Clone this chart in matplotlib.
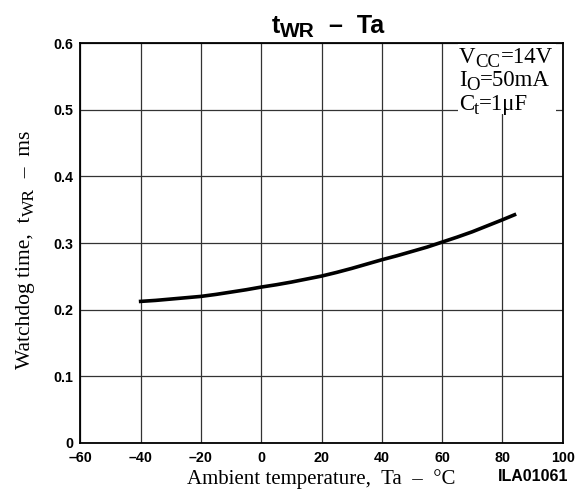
import matplotlib
matplotlib.use("Agg")
import matplotlib.pyplot as plt
from matplotlib.patches import Rectangle

temps = [-40, -35, -30, -25, -20, -15, -10, -5, 0, 5, 10, 15, 20, 25, 30, 35, 40, 45, 50, 55, 60, 65, 70, 75, 80, 84]
t_wr = [0.2125, 0.214, 0.216, 0.218, 0.220, 0.223, 0.2265, 0.230, 0.234, 0.2375, 0.2415, 0.246,
        0.2505, 0.256, 0.262, 0.2685, 0.275, 0.281, 0.2875, 0.294, 0.3015, 0.309, 0.317, 0.326, 0.335, 0.3425]
xticks = [-60, -40, -20, 0, 20, 40, 60, 80, 100]
xtick_labels = ["\u201360", "\u201340", "\u201320", "0", "20", "40", "60", "80", "100"]
yticks = [0, 0.1, 0.2, 0.3, 0.4, 0.5, 0.6]
ytick_labels = ["0", "0.1", "0.2", "0.3", "0.4", "0.5", "0.6"]

serif = 'Liberation Serif'
sans = 'Liberation Sans'
W, H = 576, 491

fig = plt.figure(figsize=(W / 100, H / 100), dpi=100)
ax = fig.add_axes([0.1395, 0.0978, 0.8375, 0.8142])

ax.plot(temps, t_wr, color='black', lw=2.6, zorder=3)

ax.set_xlim(-60, 100)
ax.set_ylim(0, 0.6)
ax.set_xticks(xticks)
ax.set_xticklabels(xtick_labels)
ax.set_yticks(yticks)
ax.set_yticklabels(ytick_labels)
ax.grid(True, color='#333333', lw=0.9)
ax.tick_params(axis='x', length=0, pad=5.5)
ax.tick_params(axis='y', length=0, pad=5)
for lab in ax.get_xticklabels() + ax.get_yticklabels():
    lab.set_fontfamily(sans)
    lab.set_fontweight('bold')
    lab.set_fontsize(10.3)
for s in ax.spines.values():
    s.set_linewidth(1.3)
    s.set_color('black')

ax.set_xlabel('Ambient temperature,  Ta  \u2013  \u00b0C', fontfamily=serif, fontsize=15, labelpad=3)

# white box behind the conditions text
ax.add_patch(Rectangle((0.782, 0.823), 0.205, 0.175, transform=ax.transAxes,
                       facecolor='white', edgecolor='none', zorder=2.5))

renderer = fig.canvas.get_renderer()


def rich(x0, y0, pieces, rotation=0, align='left', **kw):
    """pieces: (string, shift_px, fontsize); x0,y0 in figure pixels (baseline)."""
    objs = []
    total = 0.0
    for s, shift, size in pieces:
        t = fig.text(0, 0, s, fontsize=size, rotation=rotation, rotation_mode='anchor',
                     ha='left', va='baseline', zorder=4, **kw)
        bb = t.get_window_extent(renderer)
        L = bb.width if rotation == 0 else bb.height
        objs.append((t, L, shift))
        total += L
    start = 0.0
    if align == 'center':
        start = -total / 2
    elif align == 'right':
        start = -total
    pos = start
    for t, L, shift in objs:
        if rotation == 0:
            x, y = x0 + pos, y0 - shift
        else:
            x, y = x0 + shift, y0 + pos
        t.set_position((x / W, y / H))
        pos += L


# title
rich(328, H - 33, [('t', 0, 18), ('WR', 4, 15), ('  \u2013  Ta', 0, 18)],
     align='center', fontfamily=sans, fontweight='bold')

# conditions
cond = [[('V', 0, 16.5), ('CC', 4, 13.5), ('=14V', 0, 16.5)],
        [('I', 0, 16.5), ('O', 4, 13.5), ('=50mA', 0, 16.5)],
        [('C', 0, 16.5), ('t', 4, 13.5), ('=1\u03bcF', 0, 16.5)]]
for i, line in enumerate(cond):
    rich(459, H - 63 - 23.5 * i, line, fontfamily=serif)

# y label
rich(30, H - 250, [('Watchdog time,  t', 0, 15.5), ('WR', 4, 12.5), ('  \u2013  ms', 0, 15.5)],
     rotation=90, align='center', fontfamily=serif)

fig.text(533 / W, 10.3 / H, 'ILA01061', fontfamily=sans, fontweight='bold', fontsize=11.5,
         ha='center', va='baseline')

fig.savefig('out.png', dpi=100)
